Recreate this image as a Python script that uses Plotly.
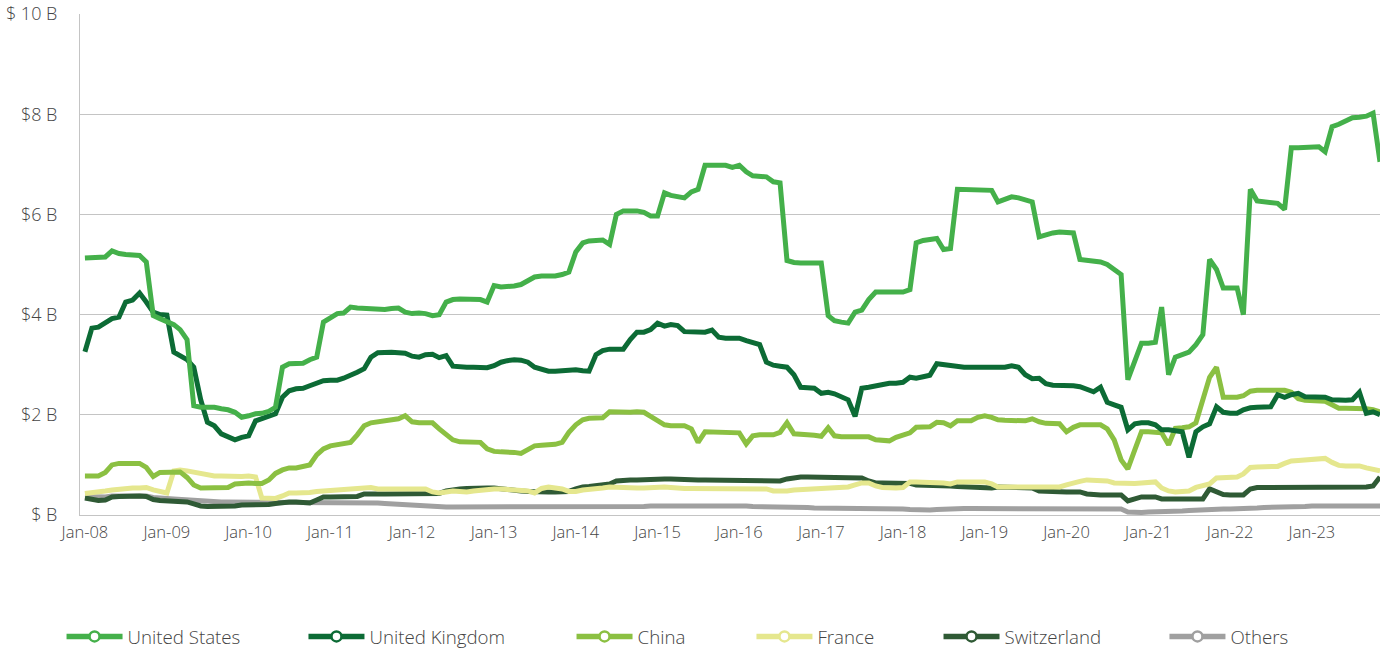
import pandas as pd
import plotly.graph_objects as go

# Monthly values, $ billions, Jan 2008 - Nov 2023
months = pd.date_range("2008-01-01", periods=191, freq="MS")

united_states = [
    5.13, 5.13, 5.13, 5.15, 5.27, 5.22, 5.2, 5.2, 5.18, 5.05, 3.98, 3.92,
    3.87, 3.8, 3.7, 3.5, 2.18, 2.15, 2.15, 2.15, 2.12, 2.1, 2.05, 1.95,
    1.98, 2.02, 2.03, 2.07, 2.15, 2.95, 3.02, 3.03, 3.03, 3.1, 3.15, 3.85,
    3.95, 4.02, 4.03, 4.15, 4.13, 4.12, 4.1, 4.09, 4.1, 4.12, 4.13, 4.05,
    4.02, 4.03, 4.02, 3.98, 4.0, 4.25, 4.3, 4.31, 4.31, 4.31, 4.3, 4.25,
    4.58, 4.55, 4.55, 4.57, 4.6, 4.68, 4.75, 4.77, 4.77, 4.77, 4.8, 4.85,
    5.25, 5.43, 5.47, 5.48, 5.49, 5.4, 6.0, 6.07, 6.07, 6.07, 6.04, 5.97,
    5.97, 6.43, 6.38, 6.35, 6.33, 6.45, 6.5, 6.98, 6.99, 6.98, 6.98, 6.94,
    6.98, 6.85, 6.77, 6.75, 6.75, 6.65, 6.63, 5.08, 5.04, 5.03, 5.03, 5.03,
    5.03, 3.98, 3.88, 3.85, 3.83, 4.05, 4.09, 4.3, 4.45, 4.45, 4.45, 4.45,
    4.45, 4.5, 5.43, 5.48, 5.5, 5.52, 5.3, 5.32, 6.5, 6.5, 6.5, 6.5,
    6.5, 6.48, 6.25, 6.3, 6.35, 6.33, 6.3, 6.25, 5.55, 5.6, 5.63, 5.65,
    5.65, 5.63, 5.1, 5.08, 5.08, 5.05, 5.0, 4.9, 4.8, 2.7, 3.05, 3.43,
    3.43, 3.45, 4.15, 2.8, 3.15, 3.2, 3.25, 3.4, 3.6, 5.1, 4.9, 4.53,
    4.53, 4.53, 4.0, 6.5, 6.27, 6.25, 6.25, 6.22, 6.1, 7.33, 7.33, 7.34,
    7.35, 7.35, 7.25, 7.75, 7.8, 7.88, 7.93, 7.94, 7.96, 8.02, 7.05,
]

united_kingdom = [
    3.26, 3.73, 3.75, 3.85, 3.92, 3.95, 4.25, 4.29, 4.43, 4.25, 4.05, 4.0,
    3.99, 3.25, 3.18, 3.1, 2.95, 2.3, 1.85, 1.78, 1.62, 1.55, 1.5, 1.55,
    1.58, 1.88, 1.93, 1.97, 2.02, 2.35, 2.48, 2.52, 2.53, 2.58, 2.62, 2.68,
    2.69, 2.69, 2.73, 2.78, 2.85, 2.92, 3.15, 3.24, 3.25, 3.25, 3.24, 3.23,
    3.17, 3.15, 3.2, 3.21, 3.14, 3.18, 2.97, 2.95, 2.95, 2.95, 2.95, 2.94,
    2.98, 3.05, 3.08, 3.1, 3.09, 3.05, 2.95, 2.9, 2.87, 2.87, 2.88, 2.89,
    2.9, 2.88, 2.87, 3.2, 3.28, 3.31, 3.31, 3.31, 3.5, 3.65, 3.65, 3.7,
    3.83, 3.77, 3.8, 3.78, 3.66, 3.65, 3.65, 3.65, 3.69, 3.55, 3.53, 3.53,
    3.53, 3.48, 3.43, 3.4, 3.05, 2.99, 2.97, 2.95, 2.8, 2.55, 2.54, 2.53,
    2.43, 2.45, 2.42, 2.37, 2.3, 1.97, 2.53, 2.55, 2.58, 2.62, 2.63, 2.63,
    2.65, 2.75, 2.73, 2.76, 2.79, 3.02, 3.0, 2.98, 2.95, 2.95, 2.95, 2.95,
    2.94, 2.93, 2.93, 2.95, 2.98, 2.95, 2.8, 2.72, 2.73, 2.62, 2.59, 2.59,
    2.59, 2.58, 2.56, 2.52, 2.46, 2.55, 2.25, 2.2, 2.15, 1.7, 1.82, 1.84,
    1.84, 1.8, 1.7, 1.7, 1.69, 1.66, 1.15, 1.66, 1.76, 1.82, 2.16, 2.05,
    2.03, 2.03, 2.1, 2.14, 2.15, 2.16, 2.16, 2.4, 2.35, 2.4, 2.43, 2.36,
    2.35, 2.35, 2.35, 2.3, 2.29, 2.29, 2.3, 2.45, 2.03, 2.06, 2.0,
]

china = [
    0.78, 0.78, 0.78, 0.85, 1.0, 1.03, 1.03, 1.03, 1.03, 0.95, 0.77, 0.85,
    0.86, 0.86, 0.86, 0.75, 0.6, 0.54, 0.54, 0.54, 0.54, 0.55, 0.62, 0.64,
    0.64, 0.63, 0.63, 0.7, 0.83, 0.9, 0.94, 0.94, 0.96, 1.0, 1.2, 1.32,
    1.38, 1.4, 1.41, 1.45, 1.6, 1.78, 1.84, 1.86, 1.87, 1.88, 1.92, 1.98,
    1.86, 1.84, 1.84, 1.84, 1.72, 1.6, 1.5, 1.46, 1.46, 1.46, 1.45, 1.32,
    1.27, 1.26, 1.26, 1.25, 1.23, 1.32, 1.38, 1.39, 1.4, 1.41, 1.45, 1.65,
    1.8, 1.9, 1.93, 1.94, 1.94, 2.06, 2.05, 2.04, 2.05, 2.06, 2.05, 1.97,
    1.88, 1.8, 1.78, 1.78, 1.78, 1.72, 1.45, 1.66, 1.66, 1.66, 1.66, 1.66,
    1.64, 1.42, 1.58, 1.6, 1.6, 1.6, 1.65, 1.84, 1.62, 1.6, 1.6, 1.59,
    1.57, 1.74, 1.58, 1.56, 1.56, 1.56, 1.56, 1.56, 1.5, 1.48, 1.48, 1.55,
    1.6, 1.64, 1.75, 1.76, 1.76, 1.85, 1.84, 1.78, 1.88, 1.88, 1.88, 1.95,
    1.98, 1.95, 1.9, 1.89, 1.88, 1.88, 1.88, 1.92, 1.86, 1.83, 1.82, 1.82,
    1.66, 1.75, 1.8, 1.8, 1.8, 1.8, 1.72, 1.5, 1.1, 0.92, 1.3, 1.66,
    1.66, 1.66, 1.64, 1.4, 1.73, 1.74, 1.76, 1.84, 2.3, 2.75, 2.95, 2.35,
    2.35, 2.35, 2.38, 2.47, 2.49, 2.49, 2.49, 2.5, 2.49, 2.45, 2.32, 2.29,
    2.28, 2.27, 2.27, 2.2, 2.13, 2.13, 2.13, 2.13, 2.12, 2.1, 2.06,
]

france = [
    0.43, 0.44, 0.45, 0.48, 0.5, 0.52, 0.53, 0.54, 0.54, 0.55, 0.5, 0.46,
    0.44, 0.88, 0.9, 0.88, 0.85, 0.82, 0.8, 0.78, 0.78, 0.77, 0.76, 0.77,
    0.78, 0.76, 0.34, 0.34, 0.33, 0.38, 0.44, 0.44, 0.44, 0.45, 0.47, 0.48,
    0.49, 0.5, 0.51, 0.53, 0.54, 0.56, 0.55, 0.52, 0.52, 0.52, 0.52, 0.52,
    0.52, 0.52, 0.52, 0.46, 0.44, 0.46, 0.48, 0.47, 0.46, 0.48, 0.5, 0.51,
    0.52, 0.52, 0.51, 0.5, 0.5, 0.48, 0.44, 0.53, 0.56, 0.55, 0.52, 0.47,
    0.47, 0.5, 0.52, 0.53, 0.54, 0.56, 0.55, 0.55, 0.54, 0.54, 0.54, 0.55,
    0.56, 0.56, 0.55, 0.53, 0.53, 0.53, 0.53, 0.54, 0.54, 0.54, 0.54, 0.54,
    0.54, 0.53, 0.53, 0.52, 0.52, 0.48, 0.47, 0.48, 0.5, 0.51, 0.52, 0.52,
    0.53, 0.54, 0.54, 0.55, 0.56, 0.6, 0.64, 0.64, 0.58, 0.55, 0.54, 0.54,
    0.55, 0.66, 0.66, 0.66, 0.66, 0.65, 0.64, 0.62, 0.66, 0.66, 0.66, 0.66,
    0.66, 0.62, 0.56, 0.56, 0.56, 0.56, 0.56, 0.56, 0.56, 0.56, 0.56, 0.56,
    0.6, 0.65, 0.67, 0.7, 0.7, 0.7, 0.68, 0.64, 0.63, 0.62, 0.63, 0.64,
    0.65, 0.66, 0.54, 0.48, 0.46, 0.47, 0.48, 0.55, 0.58, 0.62, 0.74, 0.75,
    0.76, 0.76, 0.82, 0.95, 0.96, 0.96, 0.96, 0.97, 1.03, 1.08, 1.09, 1.1,
    1.1, 1.1, 1.13, 1.05, 0.99, 0.98, 0.98, 0.98, 0.94, 0.91, 0.88,
]

switzerland = [
    0.34, 0.31, 0.29, 0.3, 0.36, 0.37, 0.38, 0.38, 0.38, 0.37, 0.31, 0.29,
    0.28, 0.27, 0.27, 0.26, 0.22, 0.18, 0.17, 0.17, 0.17, 0.17, 0.18, 0.2,
    0.2, 0.2, 0.2, 0.21, 0.23, 0.25, 0.26, 0.26, 0.25, 0.24, 0.3, 0.36,
    0.36, 0.36, 0.36, 0.36, 0.37, 0.42, 0.43, 0.42, 0.42, 0.42, 0.42, 0.42,
    0.42, 0.42, 0.42, 0.42, 0.43, 0.48, 0.51, 0.52, 0.53, 0.54, 0.54, 0.54,
    0.54, 0.52, 0.5, 0.5, 0.48, 0.47, 0.46, 0.46, 0.46, 0.46, 0.46, 0.47,
    0.52, 0.56, 0.57, 0.58, 0.6, 0.62, 0.68, 0.7, 0.7, 0.7, 0.71, 0.72,
    0.72, 0.72, 0.72, 0.71, 0.71, 0.7, 0.7, 0.7, 0.7, 0.7, 0.7, 0.68,
    0.68, 0.68, 0.68, 0.68, 0.68, 0.68, 0.68, 0.72, 0.75, 0.76, 0.76, 0.76,
    0.75, 0.75, 0.75, 0.75, 0.74, 0.74, 0.74, 0.68, 0.64, 0.64, 0.64, 0.64,
    0.64, 0.63, 0.6, 0.6, 0.6, 0.59, 0.58, 0.58, 0.57, 0.56, 0.55, 0.55,
    0.54, 0.54, 0.56, 0.56, 0.55, 0.55, 0.54, 0.54, 0.48, 0.47, 0.46, 0.46,
    0.46, 0.46, 0.46, 0.42, 0.4, 0.4, 0.4, 0.4, 0.4, 0.28, 0.33, 0.36,
    0.36, 0.36, 0.32, 0.32, 0.32, 0.32, 0.32, 0.32, 0.32, 0.52, 0.46, 0.41,
    0.4, 0.4, 0.4, 0.52, 0.55, 0.55, 0.55, 0.55, 0.56, 0.56, 0.57, 0.57,
    0.57, 0.57, 0.57, 0.56, 0.56, 0.56, 0.56, 0.56, 0.56, 0.58, 0.76,
]

others = [
    0.37, 0.36, 0.36, 0.36, 0.38, 0.38, 0.38, 0.38, 0.38, 0.38, 0.35, 0.33,
    0.33, 0.32, 0.31, 0.29, 0.28, 0.27, 0.27, 0.27, 0.26, 0.26, 0.26, 0.26,
    0.26, 0.26, 0.26, 0.26, 0.26, 0.26, 0.26, 0.26, 0.26, 0.26, 0.26, 0.26,
    0.26, 0.26, 0.26, 0.25, 0.25, 0.24, 0.24, 0.24, 0.23, 0.22, 0.22, 0.22,
    0.21, 0.2, 0.19, 0.18, 0.17, 0.16, 0.16, 0.16, 0.16, 0.16, 0.16, 0.16,
    0.15, 0.15, 0.15, 0.15, 0.15, 0.15, 0.15, 0.15, 0.15, 0.15, 0.16, 0.16,
    0.16, 0.16, 0.16, 0.16, 0.15, 0.15, 0.15, 0.15, 0.16, 0.17, 0.17, 0.18,
    0.18, 0.18, 0.19, 0.19, 0.2, 0.2, 0.2, 0.2, 0.2, 0.2, 0.2, 0.2,
    0.19, 0.18, 0.17, 0.17, 0.16, 0.16, 0.16, 0.16, 0.15, 0.15, 0.15, 0.14,
    0.14, 0.14, 0.14, 0.14, 0.14, 0.14, 0.13, 0.13, 0.13, 0.13, 0.12, 0.12,
    0.12, 0.11, 0.1, 0.1, 0.1, 0.11, 0.12, 0.12, 0.13, 0.13, 0.13, 0.13,
    0.14, 0.14, 0.14, 0.13, 0.13, 0.13, 0.13, 0.13, 0.13, 0.13, 0.13, 0.13,
    0.13, 0.13, 0.13, 0.13, 0.13, 0.13, 0.12, 0.12, 0.12, 0.06, 0.05, 0.05,
    0.06, 0.06, 0.07, 0.07, 0.08, 0.08, 0.09, 0.1, 0.11, 0.12, 0.12, 0.12,
    0.12, 0.12, 0.13, 0.13, 0.14, 0.15, 0.15, 0.15, 0.16, 0.16, 0.17, 0.17,
    0.18, 0.18, 0.18, 0.18, 0.18, 0.18, 0.18, 0.18, 0.18, 0.18, 0.18,
]

series_names = ["United States", "United Kingdom", "China", "France", "Switzerland", "Others"]
series_values = [united_states, united_kingdom, china, france, switzerland, others]
series_colors = ["#44b04a", "#0c6b35", "#8bc042", "#e5e78e", "#2f5a35", "#a0a0a0"]

y_tick_values = [0, 2, 4, 6, 8, 10]
y_tick_labels = ["$ B", "$2 B", "$4 B", "$6 B", "$8 B", "$ 10 B"]

# Legend entry left edges (paper x) for the six bottom legend blocks
legend_x = [-0.0142, 0.1719, 0.3781, 0.5165, 0.6604, 0.8342]

FONT = "Open Sans, Noto Sans, sans-serif"
TEXT_COLOR = "#444444"
GRID = "#c4c4c4"

fig = go.Figure()

# Lines: draw the last series first so United States sits on top
for i in reversed(range(len(series_names))):
    fig.add_trace(go.Scatter(
        x=months, y=series_values[i], mode="lines",
        name=series_names[i], showlegend=False,
        line=dict(color=series_colors[i], width=5),
        hoverinfo="x+y+name",
    ))

# Legend keys: line with a hollow circle, one legend block per series
for i, name in enumerate(series_names):
    key = "legend" if i == 0 else f"legend{i + 1}"
    fig.add_trace(go.Scatter(
        x=[None], y=[None], mode="lines+markers", name=name,
        line=dict(color=series_colors[i], width=5.5),
        marker=dict(symbol="circle", size=10, color="white",
                    line=dict(color=series_colors[i], width=2.5)),
        legend=key, showlegend=True,
    ))

legend_common = dict(
    orientation="h", yanchor="middle", y=-0.243, xanchor="left",
    font=dict(family=FONT, size=18.7, color=TEXT_COLOR, weight=300),
    bgcolor="rgba(0,0,0,0)", borderwidth=0, itemwidth=56,
)
layout_legends = {}
for i, lx in enumerate(legend_x):
    key = "legend" if i == 0 else f"legend{i + 1}"
    layout_legends[key] = dict(legend_common, x=lx)

fig.update_layout(
    width=1387, height=648,
    margin=dict(l=80, r=7, t=14, b=133, autoexpand=False),
    paper_bgcolor="white", plot_bgcolor="white",
    font=dict(family=FONT, size=16, color=TEXT_COLOR),
    hovermode="closest",
    **layout_legends,
)

fig.update_xaxes(
    type="date",
    range=["2007-12-10", "2023-11-01"],
    tick0="2008-01-01", dtick="M12", tickformat="%b-%y",
    showgrid=False, zeroline=False,
    showline=True, linecolor=GRID, linewidth=1,
    ticks="", ticklabelstandoff=2,
    tickfont=dict(family=FONT, size=16.5, color=TEXT_COLOR, weight=300),
)

fig.update_yaxes(
    range=[0, 10],
    tickvals=y_tick_values, ticktext=y_tick_labels,
    showgrid=True, gridcolor=GRID, gridwidth=1,
    zeroline=False,
    showline=True, linecolor=GRID, linewidth=1,
    ticks="", ticklabelstandoff=18,
    tickfont=dict(family=FONT, size=18, color=TEXT_COLOR, weight=300),
)

fig.write_html("out.html")
